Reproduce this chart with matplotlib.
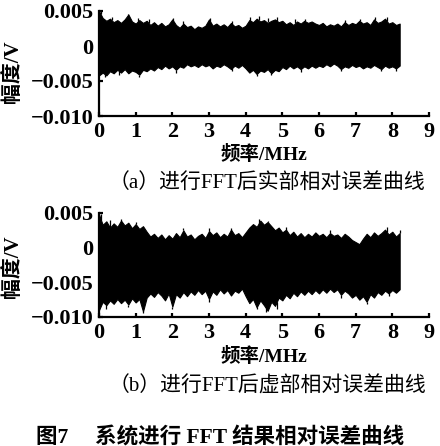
import matplotlib
matplotlib.use('Agg')
import matplotlib.pyplot as plt
import numpy as np

# envelope of the error traces, every 0.1 MHz (values in mV)
freq_mhz = np.linspace(0.0, 8.2, 83)

real_upper = [5.0, 4.0, 3.6, 3.9, 3.4, 3.7, 3.3, 3.8, 4.5, 3.5,
              3.2, 3.7, 3.3, 3.6, 3.0, 3.4, 2.9, 3.3, 2.8, 3.1,
              3.8, 3.0, 2.6, 3.2, 2.7, 2.9, 2.4, 2.8, 2.6, 2.9,
              3.8, 2.9, 3.2, 2.8, 3.1, 2.7, 3.3, 2.8, 3.0, 2.6,
              2.9, 3.7, 3.4, 3.9, 3.5, 3.7, 3.3, 3.6, 3.8, 3.4,
              3.6, 3.1, 3.4, 3.0, 3.5, 3.2, 3.6, 3.3, 3.5, 3.2,
              3.0, 3.3, 2.8, 3.1, 2.9, 3.2, 2.8, 3.4, 3.0, 3.3,
              3.1, 3.6, 3.2, 3.4, 3.0, 3.8, 3.3, 3.5, 3.9, 3.2,
              3.4, 3.0, 3.2]
real_lower = [-4.2, -3.8, -4.2, -3.6, -3.9, -3.4, -3.8, -3.3, -3.9, -3.5,
              -3.7, -4.1, -3.4, -3.6, -3.2, -3.5, -3.0, -3.3, -2.8, -3.2,
              -2.9, -3.4, -2.9, -3.1, -2.6, -2.9, -2.7, -3.0, -2.6, -2.9,
              -2.7, -3.2, -2.8, -3.0, -2.6, -2.9, -3.3, -2.8, -3.1, -2.7,
              -3.2, -3.8, -3.4, -4.0, -3.5, -3.7, -3.3, -3.9, -3.4, -3.6,
              -3.0, -3.3, -2.8, -3.2, -2.9, -3.3, -2.9, -3.2, -2.8, -3.1,
              -2.8, -3.0, -2.6, -2.9, -2.5, -2.8, -3.3, -2.9, -3.1, -2.7,
              -3.0, -2.8, -3.2, -2.9, -3.1, -2.7, -3.0, -3.3, -2.8, -3.1,
              -2.9, -3.2, -2.8]
imag_upper = [4.8, 3.3, 3.8, 2.9, 3.5, 3.0, 3.9, 3.2, 3.6, 2.8,
              3.4, 2.7, 3.1, 2.3, 1.6, 2.0, 1.4, 1.9, 1.2, 1.8,
              1.3, 2.1, 1.5, 2.5, 1.6, 1.9, 1.2, 1.7, 2.0, 1.4,
              2.4, 1.8, 2.2, 1.5, 2.0, 1.6, 2.6, 1.8, 2.1, 1.5,
              2.2, 2.9, 3.4, 3.0, 3.9, 3.3, 3.7, 3.1, 2.5, 2.9,
              2.2, 2.6, 1.8, 2.3, 1.6, 2.1, 1.5, 2.0, 1.6, 2.2,
              1.7, 2.0, 1.5, 2.1, 1.7, 1.9, 1.4, 2.0, 1.6, 1.1,
              0.8, 0.5, 1.3, 2.0, 1.5, 2.2, 1.7, 2.1, 2.6, 1.9,
              2.3, 1.6, 2.1]
imag_lower = [-9.0, -7.8, -8.3, -7.6, -8.1, -7.4, -8.0, -7.5, -8.2, -7.3,
              -7.9, -7.4, -9.2, -7.2, -6.6, -7.1, -6.4, -6.9, -7.6, -6.6,
              -8.5, -6.7, -7.2, -6.4, -7.0, -6.3, -6.8, -6.1, -6.7, -6.2,
              -7.4, -6.3, -6.8, -6.0, -6.6, -6.1, -6.9, -6.2, -6.5, -5.9,
              -7.0, -8.0, -7.4, -8.6, -7.6, -8.3, -9.1, -7.8, -8.4, -7.2,
              -7.6, -6.8, -7.3, -6.5, -7.0, -6.3, -6.8, -6.2, -6.7, -6.1,
              -6.6, -6.0, -6.5, -5.9, -6.4, -6.0, -6.8, -6.2, -6.6, -7.2,
              -6.8, -7.5, -7.0, -7.8, -6.7, -7.2, -6.4, -6.8, -6.2, -6.6,
              -6.1, -6.5, -6.0]

# single tall spikes sticking out of the band (MHz, mV)
real_spikes_up = [(0.05, 5.0), (0.35, 4.2), (0.78, 4.6), (1.05, 4.0), (1.35, 3.9),
                  (2.02, 4.0), (2.3, 3.5), (3.02, 4.0), (3.62, 3.6), (4.12, 4.1),
                  (4.35, 4.3), (4.62, 4.0), (4.85, 4.1), (5.35, 3.8), (5.62, 3.9),
                  (6.72, 3.7), (7.12, 3.9), (7.52, 4.1), (7.85, 4.2)]
real_spikes_dn = [(0.15, -4.4), (0.55, -4.2), (1.1, -4.4), (2.1, -3.8), (3.62, -3.6),
                  (4.3, -4.3), (4.7, -4.2), (5.5, -3.7), (6.6, -3.6), (7.7, -3.6),
                  (8.1, -3.5)]
imag_spikes_up = [(0.05, 4.9), (0.3, 4.0), (0.6, 4.2), (1.0, 3.7), (2.3, 2.8),
                  (3.0, 2.8), (3.6, 2.9), (4.35, 4.1), (4.6, 3.9), (5.1, 3.0),
                  (6.3, 2.5), (7.85, 3.0), (8.2, 2.5)]
imag_spikes_dn = [(0.2, -8.8), (0.8, -8.6), (1.2, -9.4), (2.0, -8.8), (3.0, -7.8),
                  (4.3, -8.9), (4.55, -9.3), (4.85, -8.8), (6.6, -7.2), (7.3, -8.1),
                  (7.9, -7.0)]

x_ticks = [0, 1, 2, 3, 4, 5, 6, 7, 8, 9]
y_ticks = [0.005, 0, -0.005, -0.010]
y_tick_labels = ['0.005', '0', '\u22120.005', '\u22120.010']
captions = ['（a）进行FFT后实部相对误差曲线', '（b）进行FFT后虚部相对误差曲线']
fig_caption = '图7　 系统进行 FFT 结果相对误差曲线'

MIX = ['Liberation Serif', 'Noto Sans CJK SC']

W, H = 440, 446
fig = plt.figure(figsize=(W / 100, H / 100), dpi=100)


def px(x0, y0, x1, y1):
    return [x0 / W, 1 - y1 / H, (x1 - x0) / W, (y1 - y0) / H]


panels = [
    (px(99, 11, 429, 116), real_upper, real_lower, real_spikes_up, real_spikes_dn, 72, 155, 183),
    (px(99, 213, 429, 317), imag_upper, imag_lower, imag_spikes_up, imag_spikes_dn, 267, 357, 386),
]

for (rect, up, lo, sp_up, sp_dn, ylab_y, xlab_y, cap_y), cap in zip(panels, captions):
    ax = fig.add_axes(rect)
    up = np.array(up) * 1e-3
    lo = np.array(lo) * 1e-3
    ax.fill_between(freq_mhz, lo, up, color='black', lw=0.8)
    sx, sy = np.array(sp_up).T
    ax.vlines(sx, np.interp(sx, freq_mhz, up), sy * 1e-3, color='black', lw=0.9)
    sx, sy = np.array(sp_dn).T
    ax.vlines(sx, sy * 1e-3, np.interp(sx, freq_mhz, lo), color='black', lw=0.9)
    ax.set_xlim(0, 9)
    ax.set_ylim(-0.010, 0.005)
    for s in ['top', 'right']:
        ax.spines[s].set_visible(False)
    for s in ['left', 'bottom']:
        ax.spines[s].set_linewidth(1.6)
    ax.set_xticks(x_ticks)
    ax.set_yticks(y_ticks)
    ax.set_yticklabels(y_tick_labels)
    ax.tick_params(direction='in', length=3, width=1.6, pad=4, labelsize=16)
    for lab in ax.get_xticklabels() + ax.get_yticklabels():
        lab.set_family('Liberation Serif')
        lab.set_weight('bold')
    fig.text(13 / W, 1 - ylab_y / H, '幅度/V', rotation=90, ha='center', va='center',
             family=MIX, weight='bold', fontsize=15)
    fig.text(264 / W, 1 - xlab_y / H, '频率/MHz', ha='center', va='center',
             family=MIX, weight='bold', fontsize=14)
    fig.text(267 / W, 1 - cap_y / H, cap, ha='center', va='center',
             family=MIX, fontsize=15)

fig.text(220 / W, 1 - 437 / H, fig_caption, ha='center', va='center',
         family=MIX, weight='bold', fontsize=15.5)

fig.savefig('out.png', dpi=100)
